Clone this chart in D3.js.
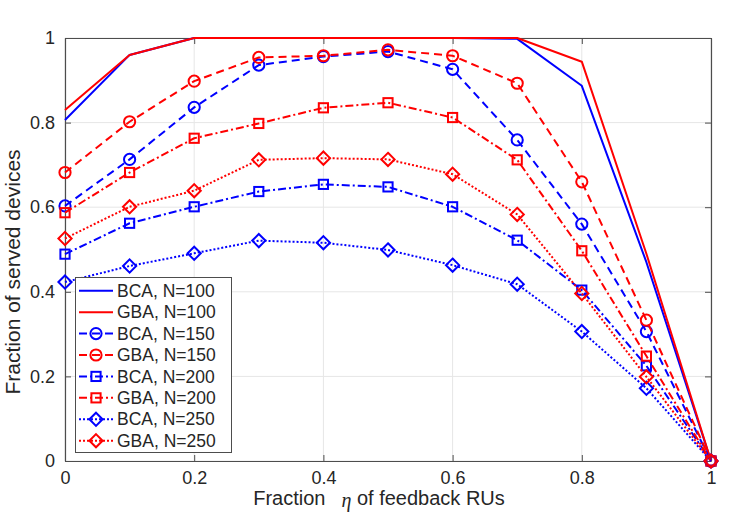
<!DOCTYPE html>
<html>
<head>
<meta charset="utf-8">
<script src="https://cdn.jsdelivr.net/npm/d3@7/dist/d3.min.js"></script>
<style>
  html, body { margin: 0; padding: 0; background: #fff; }
  svg { display: block; }
  text { font-family: "Liberation Sans", Arial, Helvetica, sans-serif; fill: #262626; }
</style>
</head>
<body>
<svg id="chart" width="747" height="514"></svg>
<script>
const eta = [0, 0.1, 0.2, 0.3, 0.4, 0.5, 0.6, 0.7, 0.8, 0.9, 1];
const bca100 = [0.806, 0.96, 1, 1, 1, 1, 1, 0.998, 0.887, 0.47, 0];
const gba100 = [0.83, 0.96, 1, 1, 1, 1, 1, 1, 0.944, 0.49, 0];
const bca150 = [0.603, 0.713, 0.836, 0.936, 0.956, 0.968, 0.926, 0.759, 0.560, 0.306, 0];
const gba150 = [0.682, 0.802, 0.898, 0.954, 0.958, 0.972, 0.958, 0.893, 0.660, 0.333, 0];
const bca200 = [0.489, 0.562, 0.601, 0.637, 0.654, 0.648, 0.601, 0.522, 0.404, 0.225, 0];
const gba200 = [0.587, 0.682, 0.763, 0.798, 0.835, 0.847, 0.812, 0.712, 0.497, 0.248, 0];
const bca250 = [0.423, 0.461, 0.491, 0.521, 0.516, 0.499, 0.463, 0.418, 0.306, 0.172, 0];
const gba250 = [0.526, 0.601, 0.639, 0.712, 0.716, 0.713, 0.678, 0.583, 0.396, 0.199, 0];

const seriesNames = ["BCA, N=100", "GBA, N=100", "BCA, N=150", "GBA, N=150",
                     "BCA, N=200", "GBA, N=200", "BCA, N=250", "GBA, N=250"];
const seriesValues = [bca100, gba100, bca150, gba150, bca200, gba200, bca250, gba250];
const xTicks = [0, 0.2, 0.4, 0.6, 0.8, 1];
const yTicks = [0, 0.2, 0.4, 0.6, 0.8, 1];

const BLUE = "#0000ff", RED = "#ff0000";
const styles = [
  {color: BLUE, dash: null, marker: null},
  {color: RED, dash: null, marker: null},
  {color: BLUE, dash: "8,5", marker: "circle"},
  {color: RED, dash: "8,5", marker: "circle"},
  {color: BLUE, dash: "8,3,2,3", marker: "square"},
  {color: RED, dash: "8,3,2,3", marker: "square"},
  {color: BLUE, dash: "2,2", marker: "diamond"},
  {color: RED, dash: "2,2", marker: "diamond"}
];

const svg = d3.select("#chart");
const L = 65, R = 711, T = 38, B = 461;
const x = d3.scaleLinear().domain([0, 1]).range([L, R]);
const y = d3.scaleLinear().domain([0, 1]).range([B, T]);

// grid
const grid = svg.append("g");
xTicks.forEach(t => grid.append("line").attr("x1", x(t)).attr("x2", x(t)).attr("y1", T).attr("y2", B)
  .attr("stroke", "#e6e6e6").attr("stroke-width", 1));
yTicks.forEach(t => grid.append("line").attr("x1", L).attr("x2", R).attr("y1", y(t)).attr("y2", y(t))
  .attr("stroke", "#e6e6e6").attr("stroke-width", 1));

// axes
const axColor = "#4d4d4d";
const xAxis = svg.append("g").attr("transform", `translate(0,${B})`)
  .call(d3.axisBottom(x).tickValues(xTicks).tickFormat(d3.format("")).tickSizeInner(-6).tickSizeOuter(0).tickPadding(10));
const yAxis = svg.append("g").attr("transform", `translate(${L},0)`)
  .call(d3.axisLeft(y).tickValues(yTicks).tickFormat(d3.format("")).tickSizeInner(-6).tickSizeOuter(0).tickPadding(10));
const xTop = svg.append("g").attr("transform", `translate(0,${T})`)
  .call(d3.axisTop(x).tickValues(xTicks).tickFormat("").tickSizeInner(-6).tickSizeOuter(0));
const yRight = svg.append("g").attr("transform", `translate(${R},0)`)
  .call(d3.axisRight(y).tickValues(yTicks).tickFormat("").tickSizeInner(-6).tickSizeOuter(0));
[xAxis, yAxis, xTop, yRight].forEach(a => {
  a.selectAll("path.domain").attr("stroke", axColor).attr("stroke-width", 1.2);
  a.selectAll(".tick line").attr("stroke", axColor).attr("stroke-width", 1);
  a.selectAll("text").attr("font-size", 18).attr("fill", "#262626")
    .attr("font-family", "'Liberation Sans', Arial, Helvetica, sans-serif");
});

// series
const line = d3.line().x((d, i) => x(eta[i])).y(d => y(d));
function drawMarker(g, type, cx, cy, color) {
  if (type === "circle") {
    g.append("circle").attr("cx", cx).attr("cy", cy).attr("r", 5.6)
      .attr("fill", "none").attr("stroke", color).attr("stroke-width", 2);
  } else if (type === "square") {
    g.append("rect").attr("x", cx - 4.6).attr("y", cy - 4.6).attr("width", 9.2).attr("height", 9.2)
      .attr("fill", "none").attr("stroke", color).attr("stroke-width", 2);
  } else if (type === "diamond") {
    const s = 6.6;
    g.append("path").attr("d", `M${cx},${cy - s}L${cx + s},${cy}L${cx},${cy + s}L${cx - s},${cy}Z`)
      .attr("fill", "none").attr("stroke", color).attr("stroke-width", 2);
  }
}
const plot = svg.append("g");
seriesValues.forEach((vals, k) => {
  const st = styles[k];
  const g = plot.append("g");
  g.append("path").attr("d", line(vals)).attr("fill", "none").attr("stroke", st.color)
    .attr("stroke-width", 2).attr("stroke-dasharray", st.dash).attr("stroke-linejoin", "round");
  if (st.marker) vals.forEach((v, i) => drawMarker(g, st.marker, x(eta[i]), y(v), st.color));
});

// legend
const lg = svg.append("g");
const lx0 = 75.5, ly0 = 277.5, lw = 156, lh = 175;
lg.append("rect").attr("x", lx0).attr("y", ly0).attr("width", lw).attr("height", lh)
  .attr("fill", "#fff").attr("stroke", "#4d4d4d").attr("stroke-width", 1);
seriesNames.forEach((name, k) => {
  const st = styles[k];
  const cy = 290.7 + k * 21.43;
  lg.append("line").attr("x1", 79).attr("x2", 113).attr("y1", cy).attr("y2", cy)
    .attr("stroke", st.color).attr("stroke-width", 2).attr("stroke-dasharray", st.dash);
  if (st.marker) drawMarker(lg, st.marker, 96, cy, st.color);
  lg.append("text").attr("x", 117).attr("y", cy).attr("dy", "0.35em")
    .attr("font-size", 17.5).text(name);
});

// axis labels
const xl = svg.append("text").attr("x", 379).attr("y", 505).attr("text-anchor", "middle").attr("font-size", 20);
xl.append("tspan").text("Fraction");
xl.append("tspan").attr("dx", 16).attr("font-family", "'Liberation Serif', 'DejaVu Serif', serif")
  .attr("font-style", "italic").attr("font-size", 20).attr("dy", 2).text("η");
xl.append("tspan").attr("dy", -2).text(" of feedback RUs");

svg.append("text").attr("transform", "translate(20,272) rotate(-90)").attr("text-anchor", "middle")
  .attr("font-size", 21).text("Fraction of served devices");
</script>
</body>
</html>
